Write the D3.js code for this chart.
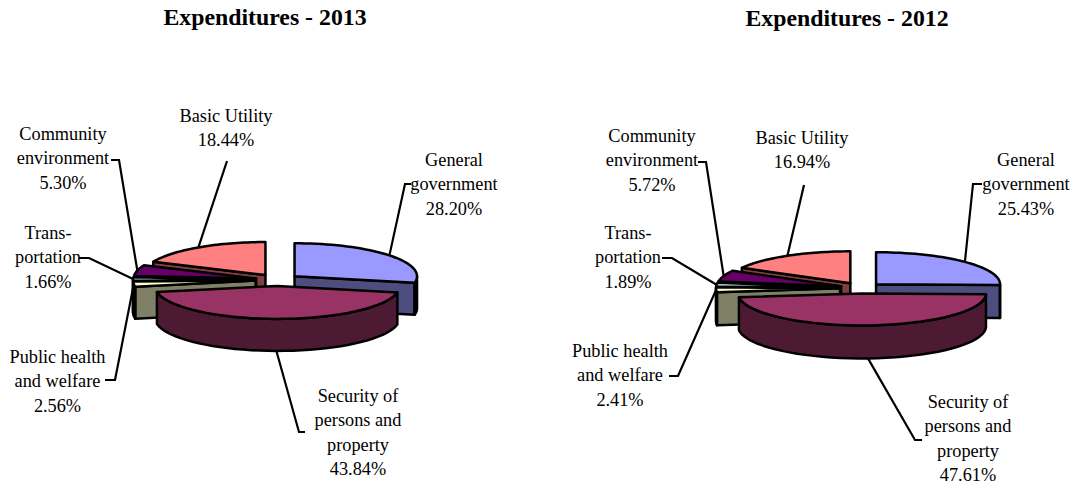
<!DOCTYPE html>
<html><head><meta charset="utf-8">
<script src="https://cdnjs.cloudflare.com/ajax/libs/d3/7.8.5/d3.min.js"></script>
<style>
html,body{margin:0;padding:0;background:#fff}
svg{display:block}
text{font-family:"Liberation Serif","Times New Roman",serif;fill:#000;text-anchor:middle}
</style></head><body>
<svg id="c" width="1072" height="484"></svg>
<script>
const categories = ["General government","Security of persons and property","Public health and welfare","Transportation","Community environment","Basic Utility"];
const values2013 = [28.20,43.84,2.56,1.66,5.30,18.44];
const values2012 = [25.43,47.61,2.41,1.89,5.72,16.94];
const labelLines = [["General","government"],["Security of","persons and","property"],["Public health","and welfare"],["Trans-","portation"],["Community","environment"],["Basic Utility"]];
const topColors = ["#9999FF","#993366","#FFFFCC","#CCFFFF","#660066","#FF8080"];
const sideColors = ["#4D4D80","#4D1A33","#808066","#668080","#330033","#804040"];

const charts = [
 {title:"Expenditures - 2013",titleX:265,titleY:25,values:values2013,cx:277.5,cy:280,rx:122.5,ry:33,depth:32,explode:22,
  labels:[[454,160],[358,396],[57.5,357],[48,233],[63,134],[226,116]],
  elbows:[[[411,184],[405,184]],[[305,432],[299,432]],[[105,380],[115,380]],[[79,258],[89,258]],[[111,160],[119,160]],[[227,161]]]},
 {title:"Expenditures - 2012",titleX:847,titleY:26,values:values2012,cx:861,cy:288,rx:124,ry:32,depth:33,explode:21,
  labels:[[1026,160],[968,402],[620,351],[628,233],[652,136],[802,138]],
  elbows:[[[982,184],[973,184]],[[922,440],[915,440]],[[669,376],[678,376]],[[662,258],[672,258]],[[698,162],[706,162]],[[804,185]]]}
];

const svg = d3.select("#c");
const line = d3.line();
const lineH = 24.3, fs = 18.3;

function drawPie(ch){
  const g = svg.append("g");
  const pie = d3.pie().sort(null).startAngle(0).endAngle(2*Math.PI);
  const arcs = pie(ch.values);
  const sx = d3.scaleLinear().domain([-1,1]).range([ch.cx-ch.rx,ch.cx+ch.rx]);
  const sy = d3.scaleLinear().domain([-1,1]).range([ch.cy-ch.ry,ch.cy+ch.ry]);
  const ex = ch.explode/ch.rx;
  const pt = (d,a,r,dz)=>{
    const m=(d.startAngle+d.endAngle)/2;
    return [sx(ex*Math.sin(m)+r*Math.sin(a)), sy(-ex*Math.cos(m)-r*Math.cos(a))+(dz||0)];
  };
  const samples=(a0,a1)=>d3.range(0,41).map(i=>a0+(a1-a0)*i/40);
  const style=p=>p.attr("stroke","#000").attr("stroke-width",2.5).attr("stroke-linejoin","round");
  const order=[5,4,3,2,0,1];
  order.forEach(i=>{
    const d=arcs[i];
    const a0=d.startAngle,a1=d.endAngle;
    [[a0,a0-Math.PI/2],[a1,a1+Math.PI/2]].forEach(([a,n])=>{
      if(-Math.cos(n)>0.001){
        const f=[pt(d,a,0),pt(d,a,1),pt(d,a,1,ch.depth),pt(d,a,0,ch.depth)];
        style(g.append("path")).attr("d",line(f)+"Z").attr("fill",sideColors[i]);
      }
    });
    const w0=Math.max(a0,Math.PI/2),w1=Math.min(a1,3*Math.PI/2);
    if(w1>w0){
      const s=samples(w0,w1);
      const f=s.map(a=>pt(d,a,1)).concat(s.slice().reverse().map(a=>pt(d,a,1,ch.depth)));
      style(g.append("path")).attr("d",line(f)+"Z").attr("fill",sideColors[i]);
    }
    const t=[pt(d,a0,0)].concat(samples(a0,a1).map(a=>pt(d,a,1)));
    style(g.append("path")).attr("d",line(t)+"Z").attr("fill",topColors[i]);
  });
  arcs.forEach((d,i)=>{
    const m=(d.startAngle+d.endAngle)/2;
    const front=Math.cos(m)<-0.5;
    const end=pt(d,m,1,front?ch.depth:0);
    const pts=ch.elbows[i].concat([end]);
    g.append("path").attr("d",line(pts)).attr("fill","none").attr("stroke","#000").attr("stroke-width",2.2);
    const [lx,ly]=ch.labels[i];
    const lines=labelLines[i].concat([ch.values[i].toFixed(2)+"%"]);
    lines.forEach((s,j)=>{
      g.append("text").attr("x",lx).attr("y",ly+6+j*lineH).attr("font-size",fs).text(s);
    });
  });
  svg.append("text").attr("x",ch.titleX).attr("y",ch.titleY).attr("font-size",23.8).attr("font-weight","bold").text(ch.title);
}
charts.forEach(drawPie);
</script>
</body></html>
